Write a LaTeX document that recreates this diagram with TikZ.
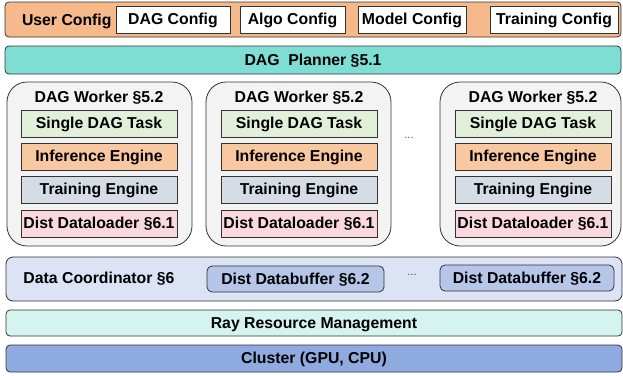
\documentclass[tikz,border=0pt]{standalone}
\usepackage{fontspec}
\setmainfont{Liberation Sans}
\definecolor{cUser}{HTML}{F6B98B}
\definecolor{cPlan}{HTML}{7FDED4}
\definecolor{cWork}{HTML}{F3F3F3}
\definecolor{cTask}{HTML}{E2EFD9}
\definecolor{cInf}{HTML}{F8C8A0}
\definecolor{cTrain}{HTML}{D6DCE5}
\definecolor{cLoad}{HTML}{F9D9DE}
\definecolor{cCoord}{HTML}{DCE3F4}
\definecolor{cBuf}{HTML}{B5C6E8}
\definecolor{cRay}{HTML}{D5F3EF}
\definecolor{cClus}{HTML}{8FAADE}
\definecolor{cLine}{HTML}{333333}
\begin{document}
\begin{tikzpicture}[x=1pt,y=-1pt,
  every node/.style={font=\fontsize{15.8}{18}\selectfont\bfseries, inner sep=0pt, outer sep=0pt, text depth=0.5pt},
  bar/.style={draw=cLine, line width=0.8pt, rounded corners=4pt, anchor=north west},
  cfg/.style={draw=cLine, line width=0.8pt, fill=white, anchor=north west, minimum height=27pt},
  inner/.style={draw=cLine, line width=0.8pt, anchor=north west, minimum width=156pt, minimum height=27pt},
  worker/.style={draw=cLine, line width=0.8pt, fill=cWork, rounded corners=20pt, anchor=north west, minimum height=164pt},
  buf/.style={draw=cLine, line width=0.8pt, fill=cBuf, rounded corners=5pt, anchor=north west, minimum height=26pt},
  dots/.style={font=\fontsize{11}{12}\selectfont, text=black!70}]
\useasboundingbox (0,0) rectangle (623,375);
% User config
\node[bar, fill=cUser, minimum width=616pt, minimum height=35pt] (user) at (5,2) {};
\node[anchor=west] (userlbl) at (22,20) {User Config};
\node[cfg, minimum width=114pt] (dagcfg) at (116,6) {DAG Config};
\node[cfg, minimum width=105pt] (algocfg) at (240,6) {Algo Config};
\node[cfg, minimum width=108pt] (modelcfg) at (358,6) {Model Config};
\node[cfg, minimum width=128pt] (traincfg) at (490,6) {Training Config};
% Planner
\node[bar, fill=cPlan, minimum width=616pt, minimum height=28pt] (planner) at (5,46) {DAG\ \ Planner §5.1};
% Workers
\node[worker, minimum width=185pt] (w1) at (7,82) {};
\node[worker, minimum width=185pt] (w2) at (206,82) {};
\node[worker, minimum width=181pt] (w3) at (440,82) {};
\foreach \n/\xi in {1/21, 2/221, 3/455}{
  \node (t\n) at (\xi+78,97) {DAG Worker §5.2};
  \node[inner, fill=cTask] (s\n) at (\xi,110) {Single DAG Task};
  \node[inner, fill=cInf] (i\n) at (\xi,143) {Inference Engine};
  \node[inner, fill=cTrain] (e\n) at (\xi,176) {Training Engine};
  \node[inner, fill=cLoad] (d\n) at (\xi,210) {Dist Dataloader §6.1};
}
\node[dots] (wdots) at (409,138) {...};
% Data coordinator
\node[bar, fill=cCoord, rounded corners=7pt, minimum width=616pt, minimum height=44pt] (coord) at (6,257) {};
\node (coordlbl) at (99,278.5) {Data Coordinator §6};
\node[buf, minimum width=177pt] (b1) at (207,266) {Dist Databuffer §6.2};
\node[buf, minimum width=174pt] (b2) at (440,265) {Dist Databuffer §6.2};
\node[dots] (bdots) at (412,275) {...};
% Ray and cluster
\node[bar, fill=cRay, minimum width=616pt, minimum height=26pt] (ray) at (6,310) {Ray Resource Management};
\node[bar, fill=cClus, minimum width=616pt, minimum height=27pt] (clus) at (6,345) {Cluster (GPU, CPU)};
\end{tikzpicture}
\end{document}
